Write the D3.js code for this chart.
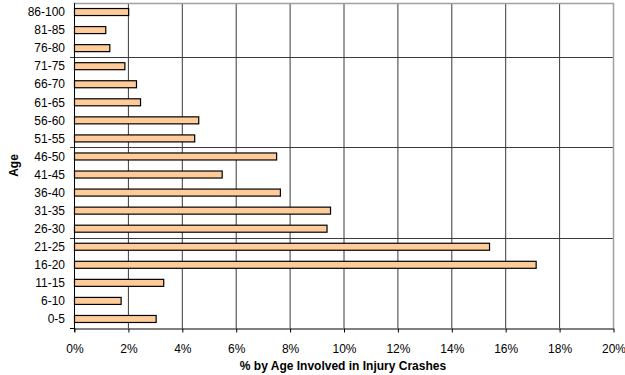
<!DOCTYPE html>
<html>
<head>
<meta charset="utf-8">
<script src="https://cdn.jsdelivr.net/npm/d3@7"></script>
<style>
  html, body { margin: 0; padding: 0; background: #fff; }
  svg { display: block; font-family: "Liberation Sans", Arial, sans-serif; }
</style>
</head>
<body>
<svg id="chart" width="625" height="375"></svg>
<script>
// Age groups, bottom to top
const ageGroups = ["0-5", "6-10", "11-15", "16-20", "21-25", "26-30", "31-35", "36-40",
  "41-45", "46-50", "51-55", "56-60", "61-65", "66-70", "71-75", "76-80", "81-85", "86-100"];
// Share (%) of each age group involved in injury crashes
const sharePct = [3.03, 1.73, 3.31, 17.13, 15.4, 9.37, 9.5, 7.64,
  5.48, 7.5, 4.46, 4.61, 2.45, 2.3, 1.87, 1.31, 1.16, 2.01];
const xTicks = [0, 2, 4, 6, 8, 10, 12, 14, 16, 18, 20];

const svg = d3.select("#chart");
const plotLeft = 74, plotRight = 613, plotTop = 3, plotBottom = 328;

const x = d3.scaleLinear().domain([0, 20]).range([plotLeft, plotRight]);
// band scale with top category first
const y = d3.scaleBand().domain(ageGroups.slice().reverse()).range([plotTop, plotBottom]).paddingInner(0).paddingOuter(0);
const step = y.step();
const barH = 7;

// vertical gridlines
svg.append("g").selectAll("line").data(xTicks.slice(1, -1)).join("line")
  .attr("x1", d => x(d) + 0.5).attr("x2", d => x(d) + 0.5)
  .attr("y1", plotTop).attr("y2", plotBottom)
  .attr("stroke", "#3a3a3a").attr("stroke-width", 1);

// horizontal gridlines every 5 categories from the bottom
const hLines = [5, 10, 15].map(k => plotBottom - k * step);
svg.append("g").selectAll("line").data(hLines).join("line")
  .attr("x1", plotLeft - 4).attr("x2", plotRight)
  .attr("y1", d => Math.round(d) + 0.5).attr("y2", d => Math.round(d) + 0.5)
  .attr("stroke", "#3a3a3a").attr("stroke-width", 1);

// plot area border (top & right)
svg.append("path")
  .attr("d", `M${plotLeft},${plotTop + 0.5}H${plotRight + 0.5}V${plotBottom}`)
  .attr("fill", "none").attr("stroke", "#a0a0a0").attr("stroke-width", 1.5);

// bars
svg.append("g").selectAll("rect").data(ageGroups).join("rect")
  .attr("x", plotLeft + 0.5)
  .attr("y", (d) => y(d) + step / 2 - barH / 2)
  .attr("width", (d, i) => x(sharePct[i]) - plotLeft)
  .attr("height", barH)
  .attr("fill", "#FFCC99")
  .attr("stroke", "#000").attr("stroke-width", 1.2);

// x axis
const xAxis = d3.axisBottom(x).tickValues(xTicks).tickFormat(d => d + "%").tickSize(4).tickSizeOuter(0);
const gx = svg.append("g").attr("transform", `translate(0.5,${plotBottom + 0.5})`).call(xAxis);
gx.select(".domain").attr("stroke", "#000");
gx.selectAll(".tick line").attr("stroke", "#000");
gx.selectAll(".tick text").attr("dy", 0).attr("y", 24)
  .attr("font-size", 12).attr("fill", "#000").attr("font-family", "Liberation Sans, Arial, sans-serif");

// y axis line
svg.append("line").attr("x1", plotLeft + 0.5).attr("x2", plotLeft + 0.5)
  .attr("y1", plotTop).attr("y2", plotBottom + 4).attr("stroke", "#000");
svg.append("line").attr("x1", plotLeft - 4).attr("x2", plotLeft)
  .attr("y1", plotBottom + 0.5).attr("y2", plotBottom + 0.5).attr("stroke", "#000");

// y labels
svg.append("g").selectAll("text").data(ageGroups).join("text")
  .attr("x", 65).attr("y", d => y(d) + step / 2)
  .attr("dy", "0.35em").attr("text-anchor", "end")
  .attr("font-size", 12).attr("fill", "#000")
  .text(d => d);

// axis titles
svg.append("text").attr("x", 343).attr("y", 370)
  .attr("text-anchor", "middle").attr("font-size", 12).attr("font-weight", "bold")
  .text("% by Age Involved in Injury Crashes");
svg.append("text").attr("transform", `translate(18,${(plotTop + plotBottom) / 2}) rotate(-90)`)
  .attr("text-anchor", "middle").attr("font-size", 12).attr("font-weight", "bold")
  .text("Age");
</script>
</body>
</html>
